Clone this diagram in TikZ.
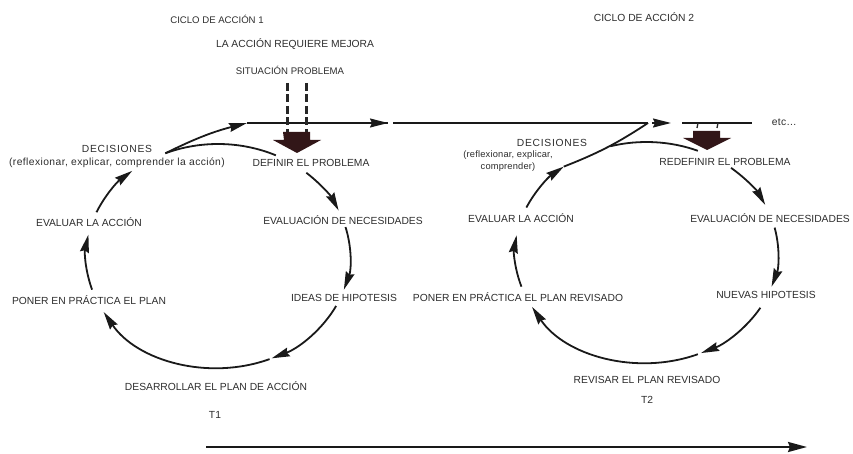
\documentclass[tikz,border=0pt]{standalone}
\usepackage{fontspec}
\setmainfont{Liberation Sans}
\usetikzlibrary{arrows.meta,calc}
\definecolor{txt}{RGB}{45,45,45}
\definecolor{dark}{RGB}{50,22,24}
\tikzset{
  lbl/.style={inner sep=0pt, text=txt, font=\fontsize{10.3}{11}\selectfont},
  lblsm/.style={inner sep=0pt, text=txt, font=\fontsize{9.6}{11}\selectfont},
  lblsp/.style={inner sep=0pt, text=txt, font=\fontsize{10.3}{11}\selectfont\addfontfeature{LetterSpace=7}},
  sml/.style={inner sep=0pt, text=txt, font=\fontsize{10.3}{11.5}\selectfont\addfontfeature{LetterSpace=4}},
  smlb/.style={inner sep=0pt, text=txt, font=\fontsize{9.3}{12}\selectfont\addfontfeature{LetterSpace=2}},
  cyc/.style={line width=1.8pt, draw=black!90},
  tip/.style={-{Stealth[length=18pt,width=9pt,inset=2pt]}},
  hline/.style={line width=1.5pt, draw=black!90},
  thick arrow/.style={fill=dark, draw=none},
  dsh/.style={line width=3pt, draw=black!85, dash pattern=on 8pt off 3.5pt},
}
\begin{document}
\begin{tikzpicture}[x=1pt,y=1pt]
\useasboundingbox (0,0) rectangle (853,453);
\fill[white] (0,0) rectangle (853,453);

% ---------- texts cycle 1 ----------
\node[lblsm] (c1t) at (217,434) {CICLO DE ACCIÓN 1};
\node[lbl] (mej) at (295,409) {LA ACCIÓN REQUIERE MEJORA};
\node[lblsm] (sit) at (290,383) {SITUACIÓN PROBLEMA};
\node[lblsp] (dec1) at (117,304) {DECISIONES};
\node[sml] (ref1) at (117,290) {(reflexionar, explicar, comprender la acción)};
\node[lbl] (def) at (311,290) {DEFINIR EL PROBLEMA};
\node[lbl] (evn1) at (343,233) {EVALUACIÓN DE NECESIDADES};
\node[lbl] (idh) at (344,155) {IDEAS DE HIPOTESIS};
\node[lbl] (pon1) at (89,153) {PONER EN PRÁCTICA EL PLAN};
\node[lbl] (eva1) at (89,231) {EVALUAR LA ACCIÓN};
\node[lbl] (des) at (216,67) {DESARROLLAR EL PLAN DE ACCIÓN};
\node[lbl] (t1) at (215,38) {T1};

% ---------- texts cycle 2 ----------
\node[lbl] (c2t) at (644,436) {CICLO DE ACCIÓN 2};
\node[sml] (etc) at (784,331) {etc...};
\node[lblsp] (dec2) at (552,310) {DECISIONES};
\node[smlb, align=center] (ref2) at (508,292) {(reflexionar, explicar,\\comprender)};
\node[lbl] (redef) at (725,291) {REDEFINIR EL PROBLEMA};
\node[lbl] (eva2) at (521,235) {EVALUAR LA ACCIÓN};
\node[lbl] (evn2) at (770,235) {EVALUACIÓN DE NECESIDADES};
\node[lbl] (pon2) at (518,156) {PONER EN PRÁCTICA EL PLAN REVISADO};
\node[lbl] (nhip) at (766,158) {NUEVAS HIPOTESIS};
\node[lbl] (rev) at (647,73) {REVISAR EL PLAN REVISADO};
\node[lbl] (t2) at (647,53) {T2};

% ---------- cycle 1 arcs ----------
\coordinate (c1) at (218,197);
\coordinate (a1) at ($(c1)+(113.5:132 and 112)$);
\coordinate (a2) at ($(c1)+(48:132 and 112)$);
\coordinate (a3) at ($(c1)+(15:132 and 112)$);
\coordinate (a4) at ($(c1)+(-26.5:132 and 112)$);
\coordinate (a5) at ($(c1)+(-67:132 and 112)$);
\coordinate (a6) at ($(c1)+(197.5:132 and 112)$);
\coordinate (a7) at ($(c1)+(157:132 and 112)$);
\draw[cyc] (a1) arc[start angle=113.5, end angle=64, x radius=132, y radius=112];
\draw[cyc,tip] (a2) arc[start angle=48, end angle=24, x radius=132, y radius=112];
\draw[cyc,tip] (a3) arc[start angle=15, end angle=-17.5, x radius=132, y radius=112];
\draw[cyc,tip] (a4) arc[start angle=-26.5, end angle=-66, x radius=132, y radius=112];
\draw[cyc,tip] (a5) arc[start angle=-67, end angle=-150, x radius=132, y radius=112];
\draw[cyc,tip] (a6) arc[start angle=197.5, end angle=169, x radius=132, y radius=112];
\draw[cyc,tip] (a7) arc[start angle=157, end angle=130.5, x radius=132, y radius=112];

% decision line 1 and horizontal line
\coordinate (h1) at (247,330);
\coordinate (h2) at (388,330);
\coordinate (h3) at (393,330);
\coordinate (h4) at (648,330);
\coordinate (h5) at (652,330);
\coordinate (h6) at (671,330);
\coordinate (h7) at (682,330);
\coordinate (h8) at (752,330);
\draw[cyc,tip] (a1) to[bend left=6] (h1);
\draw[hline] (h1) -- (h2);
\draw[hline,tip] ($(h2)+(-20,0)$) -- (h2);
\draw[hline] (h3) -- (h4);
\draw[hline,tip] (h5) -- (h6);
\draw[hline] (h7) -- (h8);

% dashed lines and thick arrow 1
\coordinate (s1) at (287,370);
\coordinate (s1e) at (287,321);
\coordinate (s2) at (306,370);
\coordinate (s2e) at (306,321);
\draw[dsh] (s1) -- (s1e);
\draw[dsh] (s2) -- (s2e);
\fill[thick arrow] (283,321) -- (310,321) -- (310,313) -- (321,313) -- (297,300) -- (273,313) -- (284,313) -- cycle;

% ticks and thick arrow 2
\draw[line width=1.3pt, draw=black!85] (698,330) -- (697,325);
\draw[line width=1.3pt, draw=black!85] (718,330) -- (717,325);
\fill[thick arrow] (693,322) -- (720,322) -- (720,315) -- (731,315) -- (707,303) -- (683,315) -- (693,315) -- cycle;

% ---------- cycle 2 arcs ----------
\coordinate (c2) at (646.5,200.5);
\coordinate (b1) at ($(c2)+(106:131.5 and 110.5)$);
\coordinate (b2) at ($(c2)+(50:131.5 and 110.5)$);
\coordinate (b3) at ($(c2)+(13:131.5 and 110.5)$);
\coordinate (b4) at ($(c2)+(-30:131.5 and 110.5)$);
\coordinate (b5) at ($(c2)+(-67:131.5 and 110.5)$);
\coordinate (b6) at ($(c2)+(198:131.5 and 110.5)$);
\coordinate (b7) at ($(c2)+(156:131.5 and 110.5)$);
\coordinate (b8) at ($(c2)+(129:131.5 and 110.5)$);
\draw[cyc] (b1) arc[start angle=106, end angle=67, x radius=131.5, y radius=110.5];
\draw[cyc,tip] (b2) arc[start angle=50, end angle=25.5, x radius=131.5, y radius=110.5];
\draw[cyc,tip] (b3) arc[start angle=13, end angle=-18, x radius=131.5, y radius=110.5];
\draw[cyc,tip] (b4) arc[start angle=-30, end angle=-65.5, x radius=131.5, y radius=110.5];
\draw[cyc,tip] (b5) arc[start angle=-67, end angle=-150.5, x radius=131.5, y radius=110.5];
\draw[cyc,tip] (b6) arc[start angle=198, end angle=171, x radius=131.5, y radius=110.5];
\draw[cyc,tip] (b7) arc[start angle=156, end angle=129, x radius=131.5, y radius=110.5];
\draw[cyc] (b8) to[bend right=6] (h4);

% ---------- time arrow ----------
\coordinate (ta) at (206,6);
\coordinate (tb) at (807,6);
\draw[line width=2.2pt, draw=black!90, -{Stealth[length=19pt,width=10pt,inset=2pt]}] (ta) -- (tb);
\end{tikzpicture}
\end{document}
